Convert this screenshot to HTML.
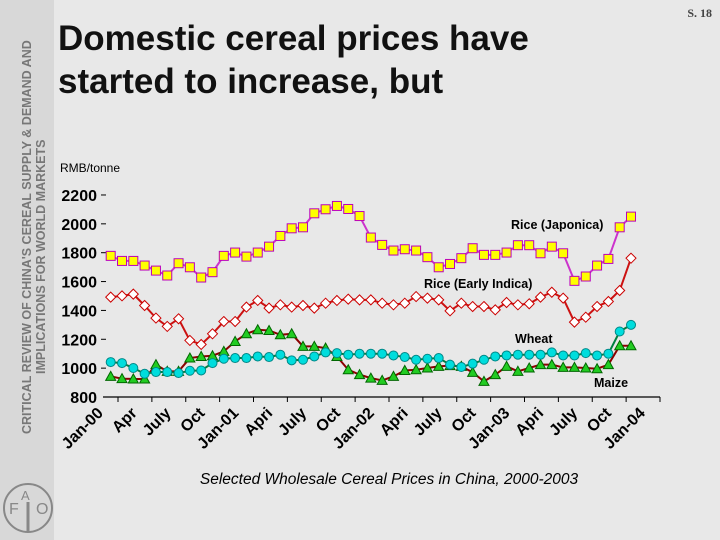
<!DOCTYPE html>
<html><head><meta charset="utf-8"><style>
body{margin:0;width:720px;height:540px;background:#e8e8e8;overflow:hidden;font-family:"Liberation Sans",sans-serif;position:relative}
#strip{position:absolute;left:0;top:0;width:54px;height:540px;background:#d8d8d8}
.vt{position:absolute;white-space:nowrap;transform-origin:0 0;transform:rotate(-90deg);font-weight:bold;font-size:12.5px;color:#777}
#title{position:absolute;left:58px;top:17px;font-size:35px;font-weight:bold;line-height:43px;color:#111}
#pg{position:absolute;right:8px;top:6px;font-family:"Liberation Serif",serif;font-size:12px;font-weight:bold;color:#444}
</style></head><body>
<div id="strip"></div>
<div class="vt" style="left:20px;top:434px">CRITICAL REVIEW OF CHINA'S CEREAL SUPPLY &amp; DEMAND AND</div>
<div class="vt" style="left:34px;top:374px">IMPLICATIONS FOR WORLD MARKETS</div>
<svg style="position:absolute;left:2px;top:480px" width="52" height="56"><circle cx="26" cy="28" r="24" fill="none" stroke="#888" stroke-width="2"/><text x="7" y="34" font-size="16" fill="#888" font-family="Liberation Sans">F</text><text x="19" y="20" font-size="13" fill="#888" font-family="Liberation Sans">A</text><text x="34" y="34" font-size="16" fill="#888" font-family="Liberation Sans">O</text><line x1="26" y1="22" x2="26" y2="52" stroke="#888" stroke-width="3"/></svg>
<div id="title">Domestic cereal prices have<br>started to increase, but</div>
<div id="pg">S. 18</div>
<svg id="chart" style="position:absolute;left:0;top:0" width="720" height="540"></svg>
<script>
const yTicks=[800,1000,1200,1400,1600,1800,2000,2200];
const xLabels=["Jan-00","Apr","July","Oct","Jan-01","Apri","July","Oct","Jan-02","Apri","July","Oct","Jan-03","Apri","July","Oct","Jan-04"];
const japonica=[1778,1743,1743,1711,1676,1642,1727,1699,1628,1665,1778,1801,1773,1801,1842,1916,1969,1976,2073,2101,2124,2103,2054,1905,1854,1815,1824,1815,1769,1699,1722,1762,1831,1785,1785,1801,1852,1852,1796,1842,1796,1605,1635,1711,1757,1976,2050];
const indica=[1492,1501,1513,1434,1347,1289,1342,1192,1164,1238,1323,1323,1423,1469,1416,1439,1423,1434,1416,1450,1469,1478,1473,1473,1450,1439,1450,1496,1485,1473,1397,1450,1427,1427,1404,1455,1439,1446,1492,1526,1485,1319,1353,1427,1462,1538,1762];
const wheat=[1042,1035,1001,961,973,973,966,982,984,1035,1065,1070,1070,1081,1077,1093,1054,1058,1081,1109,1104,1093,1100,1100,1100,1088,1077,1058,1065,1070,1024,1008,1031,1058,1081,1088,1093,1093,1093,1109,1088,1088,1104,1088,1100,1254,1300];
const maize=[943,927,925,925,1024,978,978,1070,1081,1086,1116,1185,1238,1266,1261,1231,1238,1151,1151,1139,1081,989,955,931,915,943,984,989,1001,1012,1017,1012,971,908,955,1012,978,1001,1024,1024,1005,1005,1001,996,1024,1155,1155];
const NS="http://www.w3.org/2000/svg",svg=document.getElementById('chart');
const y=v=>397-(v-800)*0.1443;
const x=i=>110.7+i*(631-110.7)/46;
function mk(t,a,p){const e=document.createElementNS(NS,t);for(const k in a)e.setAttribute(k,a[k]);(p||svg).appendChild(e);return e;}
function txt(s,a){const e=mk('text',a);e.textContent=s;return e;}
let t=txt('RMB/tonne',{x:60,y:172,'font-size':12,fill:'#000'});


yTicks.forEach(v=>{const e=txt(v,{x:97,y:y(v)+6,'font-size':16,'font-weight':'bold','text-anchor':'end',fill:'#000'});


if(v>800)mk('line',{x1:101,x2:106,y1:y(v),y2:y(v),stroke:'#000'});});
const ax=mk('line',{x1:103,x2:660,y1:397,y2:397,stroke:'#000','stroke-width':1.2});


xLabels.forEach((l,i)=>{const cx=88+i*(630-88)/16;
mk('line',{x1:cx+30,x2:cx+30,y1:397,y2:402,stroke:'#000'});
const e=txt(l,{x:0,y:0,'font-size':16,'font-weight':'bold','text-anchor':'end',fill:'#000',transform:`translate(${cx+16},${414}) rotate(-45)`});

});
t=txt('Selected Wholesale Cereal Prices in China, 2000-2003',{x:389,y:484,'font-size':15.5,'font-style':'italic','text-anchor':'middle',fill:'#000'});


function series(data,line,name,marker){const g=mk('g',{});


mk('polyline',{points:data.map((v,i)=>x(i)+','+y(v)).join(' '),fill:'none',stroke:line,'stroke-width':2},g);
data.forEach((v,i)=>{const X=x(i),Y=y(v);let m;
if(marker==='sq')m=mk('rect',{x:X-4.5,y:Y-4.5,width:9,height:9,fill:'#ffff00',stroke:'#b0b',"stroke-width":1},g);
else if(marker==='di')m=mk('polygon',{points:`${X},${Y-5} ${X+5},${Y} ${X},${Y+5} ${X-5},${Y}`,fill:'#fff',stroke:'#c00','stroke-width':1},g);
else if(marker==='ci')m=mk('circle',{cx:X,cy:Y,r:4.5,fill:'#00dddd',stroke:'#088','stroke-width':1},g);
else m=mk('polygon',{points:`${X},${Y-5} ${X+5},${Y+4} ${X-5},${Y+4}`,fill:'#22cc22',stroke:'#060','stroke-width':1},g);

});}
series(maize,'#8b0000','maize-series','tr');
series(wheat,'#008040','wheat-series','ci');
series(indica,'#cc1111','indica-series','di');
series(japonica,'#cc33cc','japonica-series','sq');
[['Rice (Japonica)',511,229],['Rice (Early Indica)',424,288],['Wheat',515,343],['Maize',594,387]].forEach(([s,X,Y])=>{const e=txt(s,{x:X,y:Y,'font-size':12.5,'font-weight':'bold',fill:'#000'});

});
</script>
</body></html>
